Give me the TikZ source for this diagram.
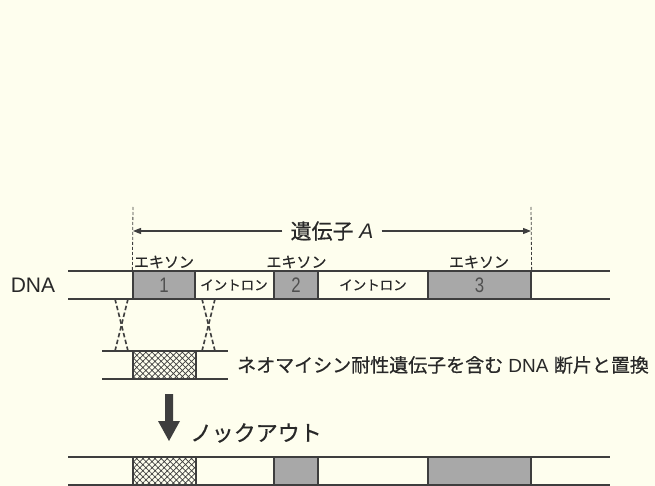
\documentclass[tikz,border=0pt]{standalone}
\usepackage{fontspec}
\setmainfont{Liberation Sans}
\newfontfamily\jp[FakeBold=0.5]{Noto Sans CJK JP}
\usetikzlibrary{patterns.meta,arrows.meta}
\definecolor{bg}{RGB}{254,254,238}
\definecolor{ink}{RGB}{62,62,62}
\definecolor{txt}{RGB}{40,40,40}
\definecolor{exon}{RGB}{168,168,168}
\definecolor{digit}{RGB}{80,80,80}
\newcommand{\fs}[1]{\fontsize{#1}{#1}\selectfont}
\begin{document}
\begin{tikzpicture}[x=1pt,y=-1pt,
  strand/.style={draw=ink,line width=1.3pt},
  boxbase/.style={draw=ink,line width=1.3pt,inner sep=0pt,minimum height=28pt},
  exonbox/.style={boxbase,fill=exon,text=digit,font=\fs{21}},
  hatchbox/.style={boxbase,pattern={Hatch[angle=45,distance=4.3pt,line width=0.7pt]},pattern color=ink},
  exlabel/.style={text=txt,font=\jp\fs{15},inner sep=0pt},
  inlabel/.style={text=txt,font=\jp\fs{13.5},inner sep=0pt},
  guide/.style={draw=ink,line width=0.8pt,dash pattern=on 3pt off 2pt},
  cross/.style={draw=ink,line width=1.6pt,dash pattern=on 4.5pt off 2.5pt},
  dim/.style={draw=ink,line width=1.1pt,-{Triangle[length=8pt,width=6pt]}}
]
\useasboundingbox[fill=bg] (0,0) rectangle (655,486);

% ---------- gene A dimension ----------
\coordinate (gl) at (133,231);
\coordinate (gr) at (531,231);
\coordinate (gltop) at (133,207);
\coordinate (grtop) at (531,207);
\node[text=txt,font=\fs{21},inner sep=8pt] (gene) at (332,231) {{\jp 遺伝子} \textit{A}};
\draw[dim] (gene.west) -- (gl);
\draw[dim] (gene.east) -- (gr);

% ---------- DNA strand ----------
\node[text=txt,font=\fs{21},inner sep=0pt] (dna) at (33,285) {DNA};
\draw[strand] (68,271) -- (610,271);
\draw[strand] (68,299) -- (610,299);
\node[exonbox,minimum width=62pt] (e1) at (164,285) {\scalebox{0.8}[1]{1}};
\node[exonbox,minimum width=44pt] (e2) at (296,285) {\scalebox{0.8}[1]{2}};
\node[exonbox,minimum width=103pt] (e3) at (479.5,285) {\scalebox{0.8}[1]{3}};
\node[exlabel] (x1) at (164,262) {エキソン};
\node[exlabel] (x2) at (296.5,262) {エキソン};
\node[exlabel] (x3) at (479,262) {エキソン};
\node[inlabel] (i1) at (234,285) {イントロン};
\node[inlabel] (i2) at (373,285) {イントロン};
\draw[guide] (gltop) -- (e1.north west);
\draw[guide] (grtop) -- (e3.north east);

% ---------- replacement fragment ----------
\draw[strand] (102,351) -- (228,351);
\draw[strand] (102,379) -- (228,379);
\node[hatchbox,minimum width=63pt] (neo) at (164.5,365) {};
\node[text=txt,font=\fs{19},inner sep=0pt,anchor=west] (neolabel) at (237,365)
  {{\jp ネオマイシン耐性遺伝子を含む} DNA {\jp 断片と置換}};

% crossover (dashed X)
\coordinate (cla) at (115,299); \coordinate (clb) at (128,299);
\coordinate (clc) at (115,351); \coordinate (cld) at (128,351);
\coordinate (cra) at (202,299); \coordinate (crb) at (215,299);
\coordinate (crc) at (202,351); \coordinate (crd) at (215,351);
\draw[cross] (cla) -- (cld);
\draw[cross] (clb) -- (clc);
\draw[cross] (cra) -- (crd);
\draw[cross] (crb) -- (crc);

% ---------- knockout arrow ----------
\fill[ink] (165,394) -- (173,394) -- (173,421) -- (180,421) -- (169,441)
  -- (158,421) -- (165,421) -- cycle;
\node[text=txt,font=\jp\fs{22},inner sep=0pt,anchor=west] (ko) at (190,433) {ノックアウト};

% ---------- knockout strand ----------
\draw[strand] (68,457) -- (610,457);
\draw[strand] (68,485) -- (610,485);
\node[hatchbox,minimum width=63pt] (k1) at (164.5,471) {};
\node[exonbox,minimum width=44pt] (k2) at (296,471) {};
\node[exonbox,minimum width=103pt] (k3) at (479.5,471) {};
\end{tikzpicture}
\end{document}
